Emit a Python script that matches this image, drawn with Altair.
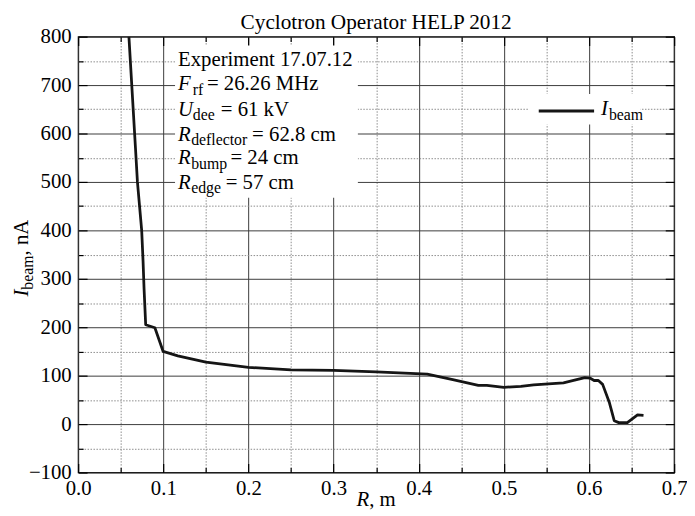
import altair as alt
import pandas as pd

FONT = "Liberation Serif"

# ---- data ----
R_m = [0.0596, 0.0673, 0.0696, 0.0746, 0.0762, 0.0774, 0.0793, 0.0901, 0.0998,
       0.117, 0.15, 0.2, 0.25, 0.3, 0.35, 0.41, 0.44, 0.47, 0.48, 0.5, 0.52,
       0.535, 0.57, 0.595, 0.601, 0.606, 0.611, 0.616, 0.624, 0.6296, 0.635,
       0.645, 0.657, 0.664]
I_nA = [800, 570, 500, 400, 337, 279, 205, 199, 150,
        141, 128, 117, 112, 111, 108, 103, 92, 80, 80, 76, 78,
        81, 85, 96, 95, 90, 90, 82, 44, 7, 3,
        3, 19, 18]

x_ticks = [0.0, 0.05, 0.1, 0.15, 0.2, 0.25, 0.3, 0.35, 0.4, 0.45, 0.5, 0.55, 0.6, 0.65, 0.7]
y_ticks = [-100, -50, 0, 50, 100, 150, 200, 250, 300, 350, 400, 450, 500, 550, 600, 650, 700, 750, 800]

title_text = "Cyclotron Operator HELP 2012"

df = pd.DataFrame({"R": R_m, "I": I_nA})

major_x = "abs(datum.value*10 - round(datum.value*10)) < 0.001"
major_y = "abs(datum.value % 100) < 0.001"

scale_x = alt.Scale(domain=[0, 0.7], nice=False, zero=False)
scale_y = alt.Scale(domain=[-100, 800], nice=False, zero=False)

common_lbl = dict(labelFont=FONT, labelFontSize=21, labelColor="#000",
                  labelFlush=False, labelOverlap=False, labelBound=False)

x_axis = alt.Axis(
    orient="bottom", values=x_ticks, title=None, grid=True, domain=False,
    gridColor={"condition": {"test": major_x, "value": "#3c3c3c"}, "value": "#8c8c8c"},
    gridDash={"condition": {"test": major_x, "value": []}, "value": [1.5, 1.5]},
    gridWidth=1,
    tickSize={"condition": {"test": major_x, "value": -9}, "value": -5},
    tickColor="#000", tickWidth=1.2,
    labelExpr=f"{major_x} ? format(datum.value, '.1f') : ''",
    labelPadding=14, **common_lbl)

y_axis = alt.Axis(
    orient="left", values=y_ticks, title=None, grid=True, domain=False,
    gridColor={"condition": {"test": major_y, "value": "#3c3c3c"}, "value": "#8c8c8c"},
    gridDash={"condition": {"test": major_y, "value": []}, "value": [1.5, 1.5]},
    gridWidth=1,
    tickSize={"condition": {"test": major_y, "value": -9}, "value": -5},
    tickColor="#000", tickWidth=1.2,
    labelExpr=f"{major_y} ? format(datum.value, 'd') : ''",
    labelPadding=16, **common_lbl)

x_axis_top = alt.Axis(
    orient="top", values=x_ticks, title=None, grid=False, labels=False, domain=False,
    tickSize={"condition": {"test": major_x, "value": -9}, "value": -5},
    tickColor="#000", tickWidth=1.2)

y_axis_right = alt.Axis(
    orient="right", values=y_ticks, title=None, grid=False, labels=False, domain=False,
    tickSize={"condition": {"test": major_y, "value": -9}, "value": -5},
    tickColor="#000", tickWidth=1.2)

base = alt.Chart(df)

mirror = base.mark_line(strokeOpacity=0).encode(
    x=alt.X("R:Q", scale=scale_x, axis=x_axis_top),
    y=alt.Y("I:Q", scale=scale_y, axis=y_axis_right),
)

curve = base.mark_line(color="#151515", strokeWidth=2.8, clip=True,
                       strokeJoin="round").encode(
    x=alt.X("R:Q", scale=scale_x, axis=x_axis),
    y=alt.Y("I:Q", scale=scale_y, axis=y_axis),
)

one = alt.Data(values=[{}])


def rect(x1, x2, y1, y2):
    return alt.Chart(one).mark_rect(color="#ffffff").encode(
        x=alt.value(x1), x2=alt.value(x2), y=alt.value(y1), y2=alt.value(y2))


def txt(s, x, y, size=21, italic=False, angle=0, align="left"):
    return alt.Chart(one).mark_text(
        text=s, font=FONT, fontSize=size,
        fontStyle="italic" if italic else "normal",
        align=align, baseline="alphabetic", angle=angle, color="#000",
    ).encode(x=alt.value(x), y=alt.value(y))


box_text = rect(98, 283, 9, 163)
box_legend = rect(456, 569, 58, 89)

legend_line = alt.Chart(one).mark_rule(color="#151515", strokeWidth=3).encode(
    x=alt.value(466), x2=alt.value(522), y=alt.value(75.3))

SUB = 16
texts = [
    txt(title_text, 301.5, -8, size=21.5, align="center"),
    # annotation box
    txt("Experiment 17.07.12", 101, 29.3),
    txt("F", 101, 54.3, italic=True), txt("rf", 116, 58.8, size=SUB), txt("= 26.26 MHz", 130.3, 54.3),
    txt("U", 101, 80.3, italic=True), txt("dee", 116, 84.8, size=SUB), txt("= 61 kV", 144.3, 80.3),
    txt("R", 101, 105.3, italic=True), txt("deflector", 114.3, 109.8, size=SUB), txt("= 62.8 cm", 176, 105.3),
    txt("R", 101, 129.3, italic=True), txt("bump", 114.3, 133.8, size=SUB), txt("= 24 cm", 154, 129.3),
    txt("R", 101, 153.7, italic=True), txt("edge", 114.3, 158.2, size=SUB), txt("= 57 cm", 149.3, 153.7),
    # legend label
    txt("I", 529, 79.3, italic=True), txt("beam", 537, 84, size=SUB),
    # x title
    txt("R", 281.5, 475, italic=True), txt(", m", 294.5, 475),
    # y title (rotated)
    txt("I", -51, 263, italic=True, angle=270),
    txt("beam", -46, 256, size=SUB, angle=270),
    txt(", nA", -51, 221.4, angle=270),
]

chart = alt.layer(
    mirror, box_text, box_legend, curve, legend_line, *texts
).resolve_axis(
    x="independent", y="independent"
).properties(
    width=603, height=441,
    autosize=alt.AutoSizeParams(type="none"),
    padding={"left": 71, "top": 26, "right": 13, "bottom": 40},
).configure_view(
    stroke="#000", strokeWidth=1.3
).configure_axis(
    labelFont=FONT, labelFontSize=21
).configure_text(
    font=FONT
)

chart.save("out.html", embed_options={"renderer": "svg", "actions": False})
